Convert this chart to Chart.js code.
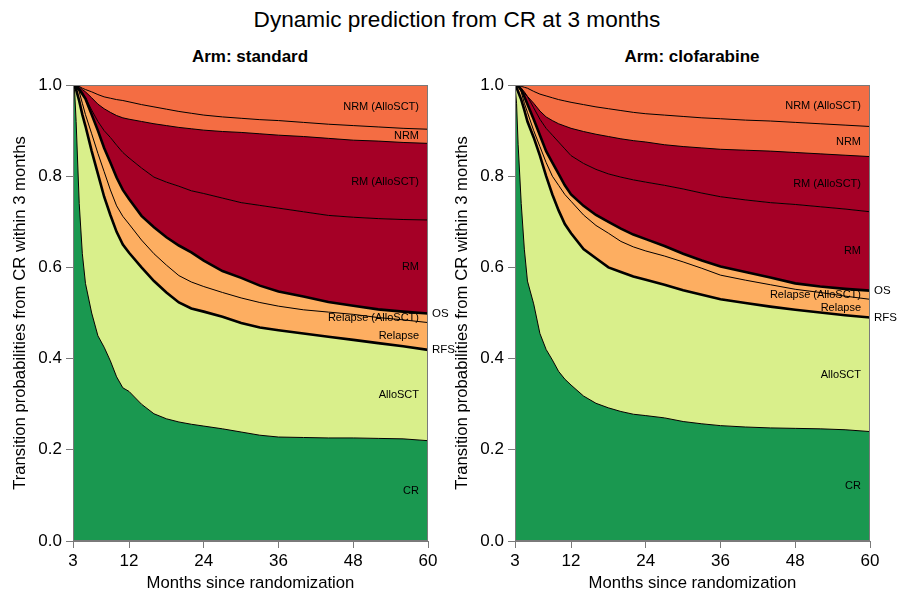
<!DOCTYPE html>
<html>
<head>
<meta charset="utf-8">
<script src="https://cdn.jsdelivr.net/npm/chart.js@4"></script>
<style>
  html, body { margin: 0; padding: 0; background: #fff; }
  body { width: 898px; height: 593px; position: relative; overflow: hidden; font-family: "Liberation Sans", Arial, sans-serif; color: #000; }
  .t { position: absolute; white-space: nowrap; text-align: center; }
  #main { top: 7px; left: 8px; width: 898px; font-size: 22.6px; line-height: 26px; }
  .sub { top: 47px; width: 300px; font-size: 17px; line-height: 20px; font-weight: bold; }
  canvas { position: absolute; top: 70px; }
</style>
</head>
<body>
<div id="main" class="t">Dynamic prediction from CR at 3 months</div>
<div class="t sub" style="left:100px">Arm: standard</div>
<div class="t sub" style="left:542px">Arm: clofarabine</div>
<canvas id="c1" width="460" height="523" style="left:0px"></canvas>
<canvas id="c2" width="456" height="523" style="left:442px"></canvas>
<script>
// ---- data (cumulative state probabilities) ----
const months = [3, 3.25, 3.5, 4, 4.5, 5, 6, 7, 8, 9, 10, 11, 12, 14, 16, 18, 20, 22, 24, 27, 30, 33, 36, 40, 44, 48, 52, 56, 60];
const xTicks = [3, 12, 24, 36, 48, 60];
const yTicks = [0, 0.2, 0.4, 0.6, 0.8, 1.0];
const stateLabels = ['CR', 'AlloSCT', 'Relapse', 'Relapse (AlloSCT)', 'RM', 'RM (AlloSCT)', 'NRM', 'NRM (AlloSCT)'];

// standard arm: upper boundary of each state band (stacked)
const stdCR   = [1.0, 0.99, 0.92, 0.74, 0.63, 0.565, 0.50, 0.45, 0.425, 0.395, 0.36, 0.336, 0.328, 0.30, 0.279, 0.268, 0.261, 0.256, 0.252, 0.246, 0.239, 0.232, 0.228, 0.227, 0.226, 0.226, 0.225, 0.224, 0.22];
const stdRFS  = [1.0, 0.997, 0.99, 0.965, 0.935, 0.91, 0.855, 0.805, 0.755, 0.715, 0.678, 0.65, 0.632, 0.60, 0.57, 0.545, 0.523, 0.51, 0.503, 0.492, 0.478, 0.468, 0.462, 0.455, 0.448, 0.441, 0.434, 0.427, 0.419];
const stdRel  = [1.0, 0.999, 0.995, 0.985, 0.96, 0.935, 0.893, 0.85, 0.81, 0.77, 0.735, 0.712, 0.695, 0.66, 0.63, 0.605, 0.582, 0.568, 0.558, 0.545, 0.533, 0.523, 0.515, 0.507, 0.502, 0.497, 0.49, 0.485, 0.479];
const stdOS   = [1.0, 1.0, 0.998, 0.99, 0.98, 0.97, 0.935, 0.9, 0.862, 0.83, 0.797, 0.77, 0.75, 0.713, 0.688, 0.666, 0.648, 0.633, 0.615, 0.592, 0.577, 0.56, 0.547, 0.536, 0.524, 0.516, 0.508, 0.503, 0.499];
const stdRM   = [1.0, 1.0, 0.998, 0.993, 0.985, 0.972, 0.945, 0.92, 0.9, 0.885, 0.868, 0.852, 0.84, 0.818, 0.798, 0.787, 0.778, 0.768, 0.762, 0.752, 0.742, 0.736, 0.73, 0.722, 0.714, 0.71, 0.707, 0.705, 0.704];
const stdRMA  = [1.0, 1.0, 0.999, 0.996, 0.99, 0.985, 0.972, 0.958, 0.948, 0.94, 0.933, 0.928, 0.925, 0.92, 0.915, 0.911, 0.907, 0.904, 0.901, 0.898, 0.896, 0.893, 0.89, 0.887, 0.883, 0.879, 0.877, 0.874, 0.872];
const stdNRM  = [1.0, 1.0, 0.999, 0.997, 0.993, 0.99, 0.985, 0.979, 0.974, 0.971, 0.968, 0.966, 0.963, 0.957, 0.952, 0.947, 0.942, 0.938, 0.934, 0.93, 0.927, 0.924, 0.922, 0.918, 0.914, 0.911, 0.908, 0.905, 0.903];

// clofarabine arm
const cloCR   = [1.0, 0.96, 0.87, 0.74, 0.64, 0.57, 0.52, 0.455, 0.42, 0.397, 0.372, 0.355, 0.342, 0.318, 0.302, 0.292, 0.284, 0.278, 0.275, 0.27, 0.262, 0.257, 0.253, 0.25, 0.248, 0.247, 0.246, 0.244, 0.24];
const cloRFS  = [1.0, 0.995, 0.985, 0.968, 0.945, 0.92, 0.885, 0.845, 0.8, 0.76, 0.725, 0.695, 0.675, 0.64, 0.62, 0.6, 0.59, 0.58, 0.573, 0.562, 0.55, 0.54, 0.53, 0.522, 0.514, 0.507, 0.501, 0.495, 0.49];
const cloRel  = [1.0, 0.999, 0.997, 0.985, 0.96, 0.94, 0.9, 0.865, 0.83, 0.8, 0.78, 0.76, 0.745, 0.715, 0.692, 0.675, 0.657, 0.645, 0.636, 0.625, 0.612, 0.598, 0.583, 0.572, 0.562, 0.552, 0.545, 0.537, 0.53];
const cloOS   = [1.0, 1.0, 0.998, 0.99, 0.975, 0.958, 0.925, 0.89, 0.855, 0.83, 0.805, 0.78, 0.76, 0.735, 0.715, 0.7, 0.685, 0.672, 0.662, 0.647, 0.63, 0.615, 0.602, 0.59, 0.578, 0.565, 0.558, 0.553, 0.549];
const cloRM   = [1.0, 1.0, 0.998, 0.99, 0.982, 0.975, 0.95, 0.925, 0.905, 0.89, 0.875, 0.86, 0.845, 0.828, 0.815, 0.805, 0.798, 0.792, 0.787, 0.78, 0.772, 0.763, 0.755, 0.748, 0.742, 0.738, 0.733, 0.728, 0.722];
const cloRMA  = [1.0, 1.0, 0.998, 0.993, 0.985, 0.975, 0.96, 0.943, 0.93, 0.922, 0.915, 0.91, 0.905, 0.898, 0.892, 0.887, 0.882, 0.878, 0.875, 0.869, 0.865, 0.862, 0.859, 0.857, 0.855, 0.852, 0.849, 0.846, 0.843];
const cloNRM  = [1.0, 1.0, 0.999, 0.997, 0.995, 0.993, 0.986, 0.98, 0.976, 0.972, 0.968, 0.965, 0.962, 0.957, 0.952, 0.948, 0.944, 0.94, 0.937, 0.934, 0.931, 0.928, 0.926, 0.923, 0.921, 0.918, 0.915, 0.912, 0.909];

// ---- styles ----
const bandColors = ['#1a9850', '#d9ef8b', '#fdae61', '#fdae61', '#a50026', '#a50026', '#f46d43'];
const topColor = '#f46d43';
const lineWidths = [1, 2.6, 1, 2.6, 1, 1, 1];
const axisGray = '#7a7a7a';
const FONT = '"Liberation Sans", Arial, sans-serif';

function makePanel(id, bounds) {
  const datasets = bounds.map((arr, i) => ({
    data: months.map((m, k) => ({ x: m, y: arr[k] })),
    fill: i === 0 ? 'origin' : '-1',
    backgroundColor: bandColors[i],
    borderColor: '#000',
    borderWidth: lineWidths[i],
    pointRadius: 0,
    tension: 0,
    order: lineWidths[i] > 1.5 ? 0 : 1
  }));

  const panelPlugin = {
    id: 'panel' + id,
    beforeDraw(chart) {
      const { ctx, chartArea: a } = chart;
      ctx.save();
      ctx.fillStyle = topColor;
      ctx.fillRect(a.left, a.top, a.right - a.left, a.bottom - a.top);
      ctx.restore();
    },
    beforeDatasetsDraw(chart) {
      const { ctx, chartArea: a, scales: { y } } = chart;
      const last = months.length - 1;
      ctx.save();
      ctx.font = '11px ' + FONT;
      ctx.fillStyle = '#000';
      ctx.textAlign = 'right';
      ctx.textBaseline = 'middle';
      for (let i = 0; i < stateLabels.length; i++) {
        const lo = i === 0 ? 0 : bounds[i - 1][last];
        const hi = i < bounds.length ? bounds[i][last] : 1;
        ctx.fillText(stateLabels[i], a.right - 9, y.getPixelForValue((lo + hi) / 2));
      }
      ctx.restore();
    },
    afterDatasetsDraw(chart) {
      const { ctx, chartArea: a, scales: { y } } = chart;
      const last = months.length - 1;
      ctx.save();
      ctx.strokeStyle = axisGray;
      ctx.lineWidth = 1;
      ctx.strokeRect(a.left + 0.5, a.top + 0.5, a.right - a.left - 1, a.bottom - a.top - 1);
      ctx.font = '11.5px ' + FONT;
      ctx.fillStyle = '#000';
      ctx.textAlign = 'left';
      ctx.textBaseline = 'middle';
      ctx.fillText('OS', a.right + 4, y.getPixelForValue(bounds[3][last]));
      ctx.fillText('RFS', a.right + 4, y.getPixelForValue(bounds[1][last]));
      ctx.restore();
    }
  };

  const canvas = document.getElementById(id);
  return new Chart(canvas, {
    type: 'line',
    data: { datasets },
    options: {
      responsive: false,
      animation: false,
      devicePixelRatio: 1,
      layout: { padding: { left: 0, top: 15, right: canvas.width - 428, bottom: 0 } },
      plugins: {
        legend: { display: false },
        tooltip: { enabled: false },
        filler: { drawTime: 'beforeDatasetsDraw', propagate: false }
      },
      scales: {
        x: {
          type: 'linear', min: 3, max: 60,
          afterBuildTicks: s => { s.ticks = xTicks.map(v => ({ value: v })); },
          afterFit: s => { s.height = 52; },
          grid: { drawOnChartArea: false, drawTicks: true, tickLength: 7, color: axisGray },
          border: { display: true, color: axisGray },
          ticks: { font: { size: 17, family: FONT }, color: '#000', padding: 3, maxRotation: 0, autoSkip: false },
          title: { display: true, text: 'Months since randomization', font: { size: 16.7, family: FONT }, color: '#000', padding: { top: 0, bottom: 0 } }
        },
        y: {
          type: 'linear', min: 0, max: 1,
          afterBuildTicks: s => { s.ticks = yTicks.map(v => ({ value: v })); },
          afterFit: s => { s.width = 73; },
          grid: { drawOnChartArea: false, drawTicks: true, tickLength: 7, color: axisGray },
          border: { display: true, color: axisGray },
          ticks: { font: { size: 17, family: FONT }, color: '#000', padding: 4, callback: v => Number(v).toFixed(1) },
          title: { display: true, text: 'Transition probabilities from CR within 3 months', font: { size: 16.7, family: FONT }, color: '#000', padding: { top: 10, bottom: 0 } }
        }
      }
    },
    plugins: [panelPlugin]
  });
}

makePanel('c1', [stdCR, stdRFS, stdRel, stdOS, stdRM, stdRMA, stdNRM]);
makePanel('c2', [cloCR, cloRFS, cloRel, cloOS, cloRM, cloRMA, cloNRM]);
</script>
</body>
</html>
